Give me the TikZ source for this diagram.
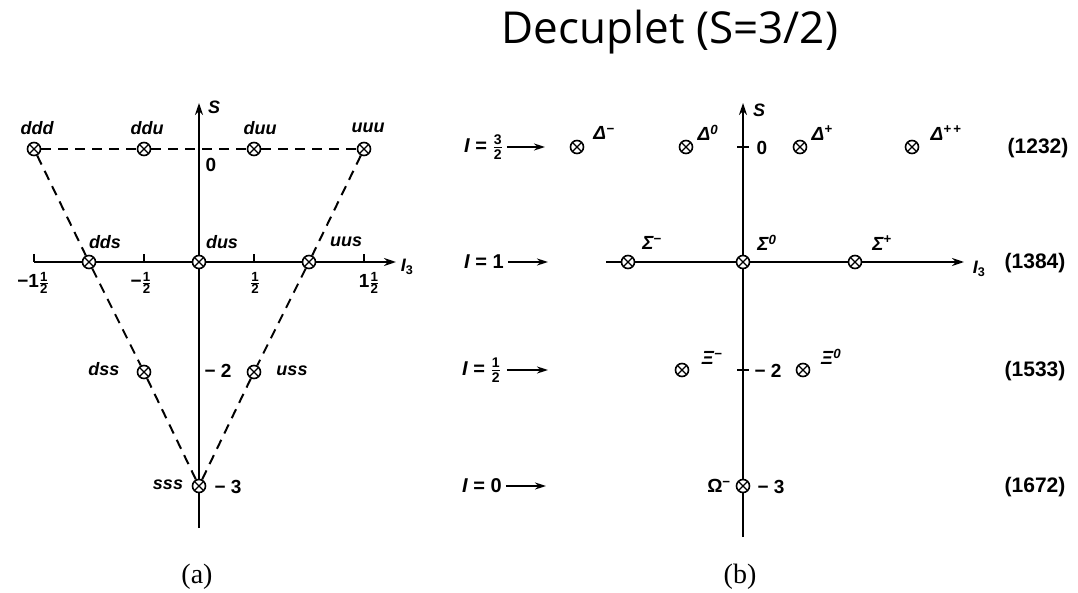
\documentclass[tikz,border=0pt]{standalone}
\usepackage{fontspec}
\usepackage{amsmath}
\setmainfont{Liberation Sans}
\newfontfamily\titlefont{Open Sans}
\newfontfamily\capfont{Liberation Serif}
\usetikzlibrary{arrows.meta}
\newcommand\hfr[2]{$\tfrac{\text{\bfseries #1}}{\text{\bfseries #2}}$}
\tikzset{
  x=1pt, y=-1pt,
  ot/.style={circle, draw, line width=1.6pt, fill=white, minimum size=13pt, inner sep=0pt,
    path picture={\draw[line width=1.3pt] (path picture bounding box.north west) -- (path picture bounding box.south east)
      (path picture bounding box.north east) -- (path picture bounding box.south west);}},
  ax/.style={line width=2pt},
  axarrow/.style={ax, -{Stealth[length=12pt,width=8pt]}},
  dsh/.style={line width=2pt, dash pattern=on 10pt off 7pt},
  lab/.style={font=\fontsize{18}{18}\selectfont\bfseries\itshape, inner sep=0pt},
  num/.style={font=\fontsize{19}{19}\selectfont\bfseries, inner sep=0pt},
  mass/.style={font=\fontsize{21}{21}\selectfont\bfseries, inner sep=0pt},
  gk/.style={font=\fontsize{19}{19}\selectfont\bfseries, inner sep=0pt},
  rowlab/.style={font=\fontsize{20}{20}\selectfont\bfseries, inner sep=0pt, anchor=west},
  rowarrow/.style={line width=2pt, -{Stealth[length=11pt,width=7pt]}},
  captext/.style={font=\fontsize{28}{28}\selectfont\capfont, inner sep=0pt}
}
\begin{document}
\begin{tikzpicture}
\useasboundingbox (0,0) rectangle (1078,593);
% title
\node[font=\fontsize{44}{44}\selectfont\titlefont, inner sep=0pt, anchor=base] (title) at (670,44) {Decuplet (S=3/2)};

% ================= (a) =================
\coordinate (aSb) at (199,528);
\coordinate (aSt) at (199,103);
\draw[axarrow] (aSb) -- (aSt);
\coordinate (aIl) at (34,262);
\coordinate (aIr) at (396,262);
\draw[ax] (34,254) -- (aIl);
\draw[axarrow] (aIl) -- (aIr);
\foreach \x in {144,254,364} \draw[ax] (\x,262) -- (\x,254);

\node[ot] (ddd) at (34,149) {};
\node[ot] (ddu) at (144,149) {};
\node[ot] (duu) at (254,149) {};
\node[ot] (uuu) at (364,149) {};
\node[ot] (dds) at (89,262) {};
\node[ot] (dus) at (199,262) {};
\node[ot] (uus) at (309,262) {};
\node[ot] (dss) at (144,372) {};
\node[ot] (uss) at (254,372) {};
\node[ot] (sss) at (199,486) {};

\draw[dsh] (ddd) -- (ddu) -- (duu) -- (uuu);
\draw[dsh] (ddd) -- (dds) -- (dss) -- (sss);
\draw[dsh] (uuu) -- (uus) -- (uss) -- (sss);

\node[lab] (lddd) at (37,128) {ddd};
\node[lab] (lddu) at (147,128) {ddu};
\node[lab] (lduu) at (260,128) {duu};
\node[lab] (luuu) at (368,128) {uuu};
\node[lab] (ldds) at (105,242) {dds};
\node[lab] (ldus) at (222,242) {dus};
\node[lab] (luus) at (346,242) {uus};
\node[lab] (ldss) at (104,369) {dss};
\node[lab] (luss) at (292,371) {uss};
\node[lab] (lsss) at (168,485) {sss};

\node[lab] (aS) at (214,107) {S};
\node[lab] (aI3) at (407,267) {I\textsubscript{\upshape 3}};
\node[num] (a0) at (211,165) {0};
\node[num] (am2) at (218,371) {− 2};
\node[num] (am3) at (228,487) {− 3};
\node[num] (t1) at (33,283) {−1\hfr{1}{2}};
\node[num] (t2) at (141,283) {−\hfr{1}{2}};
\node[num] (t3) at (255,283) {\hfr{1}{2}};
\node[num] (t4) at (369,283) {1\hfr{1}{2}};

\node[captext] (capa) at (197,577) {(a)};

% ================= (b) =================
\coordinate (bSb) at (743,537);
\coordinate (bSt) at (743,103);
\draw[axarrow] (bSb) -- (bSt);
\coordinate (bIl) at (606,262);
\coordinate (bIr) at (964,262);
\draw[axarrow] (bIl) -- (bIr);
\draw[ax] (737,147) -- (749,147);
\draw[ax] (737,370) -- (749,370);

\node[ot] (Dm) at (577,147) {};
\node[ot] (D0) at (686,147) {};
\node[ot] (Dp) at (800,147) {};
\node[ot] (Dpp) at (912,147) {};
\node[ot] (Sm) at (628,262) {};
\node[ot] (S0) at (743,262) {};
\node[ot] (Sp) at (855,262) {};
\node[ot] (Xm) at (682,370) {};
\node[ot] (X0) at (803,370) {};
\node[ot] (Om) at (743,486) {};

\node[gk] (lDm) at (604,133) {\itshape Δ\textsuperscript{−}};
\node[gk] (lD0) at (708,133) {\itshape Δ\textsuperscript{0}};
\node[gk] (lDp) at (822,133) {\itshape Δ\textsuperscript{+}};
\node[gk] (lDpp) at (946,133) {\itshape Δ\textsuperscript{+\,+}};
\node[gk] (lSm) at (652,243) {\itshape Σ\textsuperscript{−}};
\node[gk] (lS0) at (767,243) {\itshape Σ\textsuperscript{0}};
\node[gk] (lSp) at (882,243) {\itshape Σ\textsuperscript{+}};
\node[gk] (lXm) at (712,358) {\itshape Ξ\textsuperscript{−}};
\node[gk] (lX0) at (831,357) {\itshape Ξ\textsuperscript{0}};
\node[gk] (lOm) at (719,486) {Ω\textsuperscript{−}};

\node[lab] (bS) at (759,110) {S};
\node[lab] (bI3) at (979,269) {I\textsubscript{\upshape 3}};
\node[num] (b0) at (762,148) {0};
\node[num] (bm2) at (768,371) {− 2};
\node[num] (bm3) at (771,487) {− 3};

\node[mass] (m1) at (1038,148) {(1232)};
\node[mass] (m2) at (1035,263) {(1384)};
\node[mass] (m3) at (1035,371) {(1533)};
\node[mass] (m4) at (1035,487) {(1672)};

\node[rowlab] (r1) at (464,147) {\itshape I\upshape\ = \hfr{3}{2}};
\node[rowlab] (r2) at (464,262) {\itshape I\upshape\ = 1};
\node[rowlab] (r3) at (462,370) {\itshape I\upshape\ = \hfr{1}{2}};
\node[rowlab] (r4) at (462,486) {\itshape I\upshape\ = 0};
\coordinate (e1) at (545,147);
\coordinate (e2) at (548,262);
\coordinate (e3) at (548,370);
\coordinate (e4) at (546,486);
\draw[rowarrow] (r1.east) ++(4,0) coordinate (s1) -- (e1);
\draw[rowarrow] (r2.east) ++(4,0) coordinate (s2) -- (e2);
\draw[rowarrow] (r3.east) ++(6,0) coordinate (s3) -- (e3);
\draw[rowarrow] (r4.east) ++(4,0) coordinate (s4) -- (e4);

\node[captext] (capb) at (740,577) {(b)};
\end{tikzpicture}
\end{document}
